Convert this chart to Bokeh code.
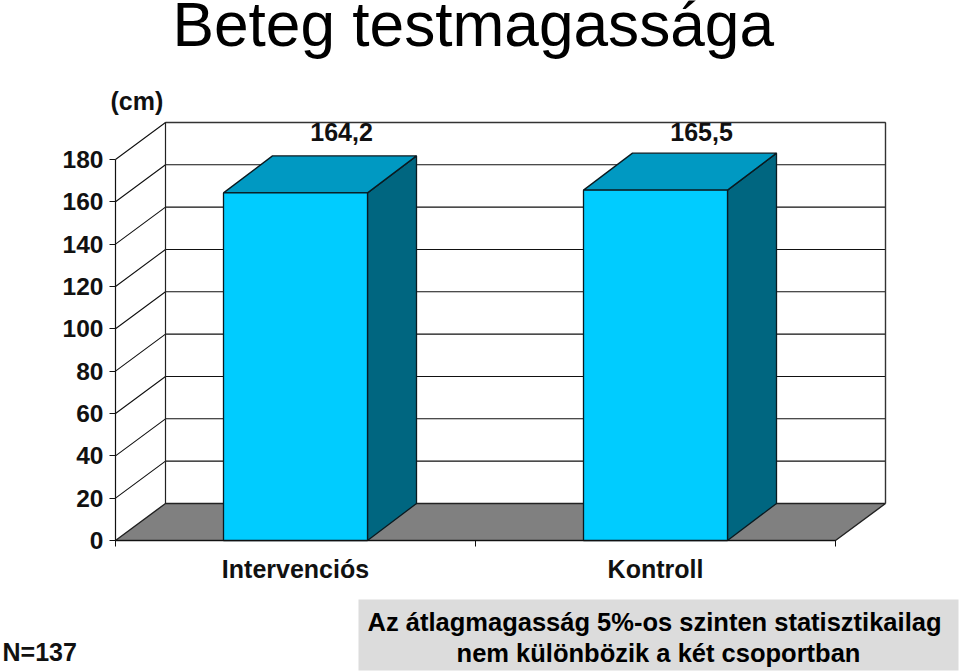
from bokeh.plotting import figure
from bokeh.embed import file_html
from bokeh.resources import INLINE
from bokeh.models import LinearAxis, FixedTicker, Range1d
from bokeh.core.properties import value

title_text = "Beteg testmagassága"
unit_text = "(cm)"
categories = ["Intervenciós", "Kontroll"]
heights = [164.2, 165.5]
height_labels = ["164,2", "165,5"]
y_ticks = [0, 20, 40, 60, 80, 100, 120, 140, 160, 180]
n_text = "N=137"
note_lines = ["Az átlagmagasság 5%-os szinten statisztikailag",
              "nem különbözik a két csoportban"]

W, H = 960, 672
X0, Y0 = 115, 540
PX_X, PX_Y = 360.0, 2.117
DX, DY = 50 / PX_X, 37 / PX_Y
BAR_DX = 49 / PX_X
BAR_W = 0.4
FONT = "Liberation Sans"
INK = "#111111"

p = figure(width=W, height=H, output_backend="svg", toolbar_location=None,
           x_range=Range1d(-X0 / PX_X, (W - X0) / PX_X),
           y_range=Range1d((Y0 - H) / PX_Y, Y0 / PX_Y),
           min_border=0, x_axis_type=None, y_axis_type=None,
           outline_line_color=None, background_fill_color="white",
           border_fill_color="white")
p.xgrid.visible = False
p.ygrid.visible = False
p.styles = {"position": "absolute", "left": "0px", "top": "0px"}


def dx(px):
    return (px - X0) / PX_X


def dy(py):
    return (Y0 - py) / PX_Y


top = y_ticks[-1]
n_cat = len(categories)

# note box behind its text
p.quad(left=dx(358), right=dx(958), bottom=dy(670), top=dy(599), fill_color="#DCDCDC", line_color=None)

# floor
p.patch([0, DX, n_cat + DX, n_cat], [0, DY, DY, 0], fill_color="#808080",
        line_color="#222222", line_width=1.4)

# walls and gridlines
for v in y_ticks[1:]:
    p.line([0, DX, n_cat + DX], [v, v + DY, v + DY], line_color=INK, line_width=1.1)
p.line([DX, DX], [DY, top + DY], line_color="#222222", line_width=1.2)
p.line([n_cat + DX, n_cat + DX], [DY, top + DY], line_color="#333333", line_width=1.4)
p.line([DX, n_cat + DX], [top + DY, top + DY], line_color="#333333", line_width=1.4)

# bars
for i, h in enumerate(heights):
    l, r = i + 0.5 - BAR_W / 2, i + 0.5 + BAR_W / 2
    p.patch([r, r + BAR_DX, r + BAR_DX, r], [0, DY, h + DY, h], fill_color="#006680",
            line_color="#0a1a20", line_width=1.3)
    p.patch([l, r, r + BAR_DX, l + BAR_DX], [h, h, h + DY, h + DY], fill_color="#0099C2",
            line_color="#0a1a20", line_width=1.3)
    p.quad(left=l, right=r, bottom=0, top=h, fill_color="#00CCFF",
           line_color="#0a1a20", line_width=1.3)

# value labels
p.text(x=[i + 0.5 + 0.128 for i in range(n_cat)], y=[192.8] * n_cat, text=height_labels,
       text_font=value(FONT), text_font_size="25px", text_font_style="bold",
       text_align="center", text_baseline="middle", text_color=INK)

# axes
yax = LinearAxis(fixed_location=0, ticker=FixedTicker(ticks=y_ticks), bounds=(0, top))
yax.axis_line_color = INK
yax.axis_line_width = 1.2
yax.major_tick_line_color = INK
yax.major_tick_in = 0
yax.major_tick_out = 6
yax.minor_tick_line_color = None
yax.major_label_standoff = 6
yax.major_label_text_font = FONT
yax.major_label_text_font_size = "24.5px"
yax.major_label_text_font_style = "bold"
yax.major_label_text_color = INK
p.add_layout(yax, "left")

xax = LinearAxis(fixed_location=0, bounds=(0, n_cat),
                 ticker=FixedTicker(ticks=[i + 0.5 for i in range(n_cat)],
                                    minor_ticks=list(range(n_cat + 1))),
                 major_label_overrides={i + 0.5: c for i, c in enumerate(categories)})
xax.axis_line_color = INK
xax.axis_line_width = 1.2
xax.major_tick_line_color = None
xax.major_tick_in = 0
xax.major_tick_out = 0
xax.minor_tick_line_color = INK
xax.minor_tick_in = 0
xax.minor_tick_out = 6
xax.major_label_standoff = 8
xax.major_label_text_font = FONT
xax.major_label_text_font_size = "25px"
xax.major_label_text_font_style = "bold"
xax.major_label_text_color = INK
p.add_layout(xax, "below")


def label(text, x, y, size, style="normal", align="left", color="#000000"):
    p.text(x=[dx(x)], y=[dy(y)], text=[text], text_font=value(FONT), text_font_size=size,
           text_font_style=style, text_align=align, text_baseline="middle",
           text_color=color)


label(title_text, 172, 24, "62.2px")
label(unit_text, 110, 100, "25px", "bold", color=INK)
label(n_text, 2, 651, "25px", "bold", color=INK)
label(note_lines[0], 654, 621, "25.5px", "bold", "center")
label(note_lines[1], 658, 652, "25.5px", "bold", "center")

open("out.html", "w").write(file_html(p, INLINE))
